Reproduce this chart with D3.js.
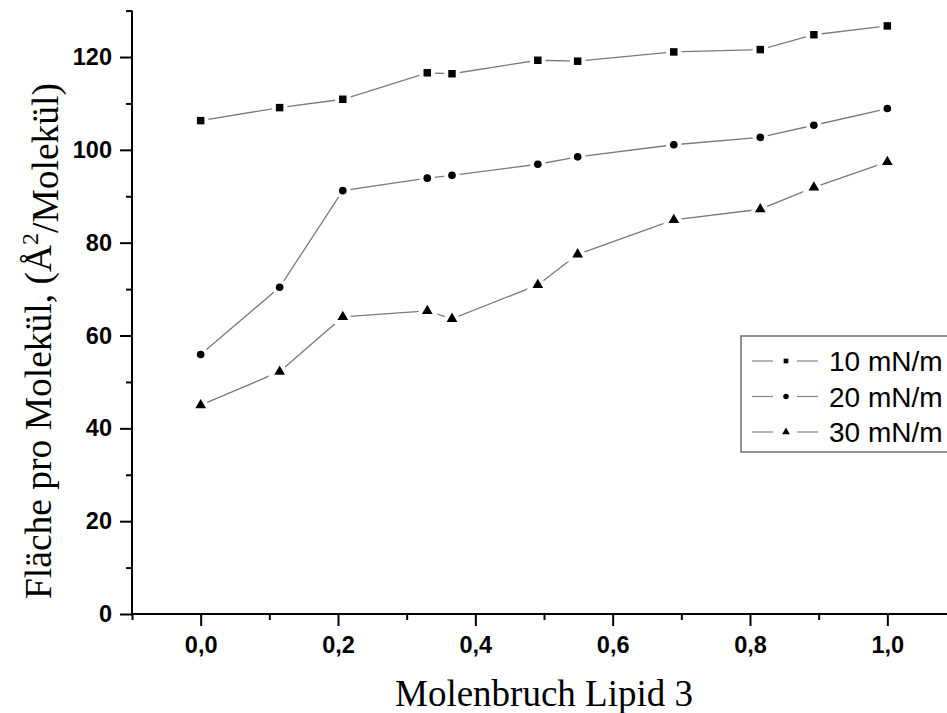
<!DOCTYPE html>
<html>
<head>
<meta charset="utf-8">
<script src="https://cdn.jsdelivr.net/npm/d3@7"></script>
<style>
  body { margin: 0; background: #fff; }
  svg { display: block; }
</style>
</head>
<body>
<svg id="chart" width="947" height="713"></svg>
<script>
// data
const molFraction = [0, 0.115, 0.207, 0.33, 0.366, 0.491, 0.549, 0.689, 0.815, 0.893, 1.0];
const area10 = [106.3, 109.1, 110.9, 116.6, 116.4, 119.3, 119.1, 121.1, 121.6, 124.8, 126.7];
const area20 = [55.9, 70.4, 91.2, 93.9, 94.5, 96.9, 98.5, 101.1, 102.7, 105.3, 108.9];
const area30 = [45.0, 52.2, 64.0, 65.3, 63.6, 70.9, 77.5, 84.9, 87.2, 91.9, 97.4];
const seriesNames = ["10 mN/m", "20 mN/m", "30 mN/m"];
const xTickValues = [0, 0.2, 0.4, 0.6, 0.8, 1.0];
const xMinorValues = [-0.1, 0.1, 0.3, 0.5, 0.7, 0.9, 1.1];
const yTickValues = [0, 20, 40, 60, 80, 100, 120];
const yMinorValues = [10, 30, 50, 70, 90, 110, 130];

const svg = d3.select("#chart");
const margin = { left: 132, top: 10.6, bottom: 614, right: 956 };

// scales
const x = d3.scaleLinear().domain([-0.1, 1.1]).range([margin.left, margin.right]);
const y = d3.scaleLinear().domain([0, 130]).range([margin.bottom, margin.top]);

const series = [
  { name: seriesNames[0], values: area10, symbol: d3.symbolSquare, size: 56, legendSize: 22 },
  { name: seriesNames[1], values: area20, symbol: d3.symbolCircle, size: 46, legendSize: 24 },
  { name: seriesNames[2], values: area30, symbol: d3.symbolTriangle, size: 50, legendSize: 26 },
];

const tickFont = "'Liberation Sans', Arial, sans-serif";
const titleFont = "'Liberation Serif', 'Times New Roman', serif";

// lines
const line = d3.line()
  .x((d, i) => x(molFraction[i]))
  .y((d) => y(d));

const gLines = svg.append("g");
gLines.selectAll("path")
  .data(series)
  .join("path")
  .attr("d", (d) => line(d.values))
  .attr("fill", "none")
  .attr("stroke", "#7a7a7a")
  .attr("stroke-width", 1.3);

// markers, with a white halo that breaks the line like in the original
const gPoints = svg.append("g");
series.forEach((s) => {
  gPoints.append("g")
    .selectAll("path")
    .data(s.values)
    .join("path")
    .attr("transform", (d, i) => "translate(" + x(molFraction[i]) + "," + y(d) + ")")
    .attr("d", d3.symbol().type(s.symbol).size(s.size))
    .attr("fill", "#000")
    .attr("stroke", "#fff")
    .attr("stroke-width", 8)
    .style("paint-order", "stroke");
});

// axes
const styleAxis = (g) => {
  g.select(".domain").remove();
  g.selectAll("line").attr("stroke", "#000").attr("stroke-width", 2);
};

const gY = svg.append("g").attr("transform", "translate(" + margin.left + ",0)");
gY.call(d3.axisLeft(y).tickValues(yTickValues).tickSize(12).tickPadding(8).tickFormat(d3.format("d")))
  .call(styleAxis);
gY.selectAll("text")
  .attr("font-family", tickFont)
  .attr("font-weight", "bold")
  .attr("font-size", 23.5)
  .attr("fill", "#000");
svg.append("g").attr("transform", "translate(" + margin.left + ",0)")
  .call(d3.axisLeft(y).tickValues(yMinorValues).tickSize(6).tickFormat(""))
  .call(styleAxis);

const gX = svg.append("g").attr("transform", "translate(0," + margin.bottom + ")");
gX.call(d3.axisBottom(x).tickValues(xTickValues).tickSize(12).tickPadding(10)
    .tickFormat((d) => d3.format(".1f")(d).replace(".", ",")))
  .call(styleAxis);
gX.selectAll("text")
  .attr("font-family", tickFont)
  .attr("font-weight", "bold")
  .attr("font-size", 23.5)
  .attr("fill", "#000");
svg.append("g").attr("transform", "translate(0," + margin.bottom + ")")
  .call(d3.axisBottom(x).tickValues(xMinorValues).tickSize(6).tickFormat(""))
  .call(styleAxis);

// axis lines
svg.append("line")
  .attr("x1", margin.left).attr("x2", margin.left)
  .attr("y1", margin.top).attr("y2", margin.bottom)
  .attr("stroke", "#000").attr("stroke-width", 2);
svg.append("line")
  .attr("x1", margin.left - 1).attr("x2", margin.right)
  .attr("y1", margin.bottom).attr("y2", margin.bottom)
  .attr("stroke", "#000").attr("stroke-width", 2);

// axis titles
svg.append("text")
  .attr("x", (margin.left + margin.right) / 2)
  .attr("y", 706)
  .attr("text-anchor", "middle")
  .attr("font-family", titleFont)
  .attr("font-size", 37)
  .attr("fill", "#000")
  .text("Molenbruch Lipid 3");

const yTitle = svg.append("text")
  .attr("transform", "translate(51,341) rotate(-90)")
  .attr("text-anchor", "middle")
  .attr("font-family", titleFont)
  .attr("font-size", 37.5)
  .attr("fill", "#000");
yTitle.append("tspan").text("Fläche pro Molekül, (Å");
yTitle.append("tspan").attr("dy", "-0.55em").attr("font-size", 24).text("2");
yTitle.append("tspan").attr("dy", "0.55em").text("/Molekül)");

// legend
const legend = svg.append("g").attr("transform", "translate(741,336)");
legend.append("rect")
  .attr("x", 0).attr("y", 0)
  .attr("width", 320).attr("height", 116)
  .attr("fill", "#fff")
  .attr("stroke", "#6e6e6e")
  .attr("stroke-width", 1.5);

const rows = legend.selectAll("g.row")
  .data(series)
  .join("g")
  .attr("class", "row")
  .attr("transform", (d, i) => "translate(0," + (25 + i * 35.5) + ")");
rows.append("line")
  .attr("x1", 11).attr("x2", 32)
  .attr("stroke", "#8a8a8a").attr("stroke-width", 1.3);
rows.append("line")
  .attr("x1", 56).attr("x2", 77)
  .attr("stroke", "#8a8a8a").attr("stroke-width", 1.3);
rows.append("path")
  .attr("transform", "translate(45,0)")
  .attr("d", (d) => d3.symbol().type(d.symbol).size(d.legendSize)())
  .attr("fill", "#000");
rows.append("text")
  .attr("x", 88)
  .attr("dy", "0.36em")
  .attr("font-family", tickFont)
  .attr("font-size", 28)
  .attr("fill", "#000")
  .text((d) => d.name);
</script>
</body>
</html>
